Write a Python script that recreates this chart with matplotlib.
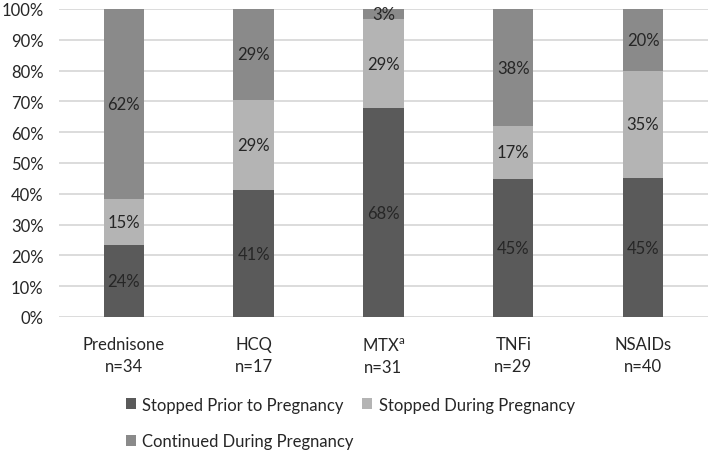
import matplotlib
matplotlib.use("Agg")
import matplotlib.pyplot as plt
from matplotlib.patches import Patch

plt.rcParams["font.family"] = ["Lato", "DejaVu Sans"]
plt.rcParams["mathtext.default"] = "regular"

categories = ["Prednisone\nn=34", "HCQ\nn=17", "MTX$^{a}$\nn=31", "TNFi\nn=29", "NSAIDs\nn=40"]
stopped_prior = [23.5, 41.2, 67.7, 44.8, 45.0]
stopped_during = [14.7, 29.4, 29.0, 17.2, 35.0]
continued = [61.8, 29.4, 3.2, 37.9, 20.0]

series = [
    ("Stopped Prior to Pregnancy", stopped_prior, "#5a5a5a"),
    ("Stopped During Pregnancy", stopped_during, "#b4b4b4"),
    ("Continued During Pregnancy", continued, "#8a8a8a"),
]

TEXT = "#262626"
FS = 12

fig = plt.figure(figsize=(7.09, 4.52), dpi=100)
ax = fig.add_axes([0.083, 0.2965, 0.9156, 0.6815])

x = list(range(len(categories)))
bottom = [0.0] * len(categories)
handles = {}
for name, vals, color in series:
    ax.bar(x, vals, width=0.31, bottom=bottom, color=color, zorder=2)
    for i, v in enumerate(vals):
        ax.text(i, bottom[i] + v / 2, f"{int(v + 0.5)}%", ha="center", va="center",
                fontsize=FS, color=TEXT, zorder=3)
    bottom = [b + v for b, v in zip(bottom, vals)]
    handles[name] = Patch(facecolor=color, label=name)

ax.set_xlim(-0.5, len(categories) - 0.5)
ax.set_ylim(0, 100)
ax.set_yticks(range(0, 101, 10))
ax.set_yticklabels([f"{t}%" for t in range(0, 101, 10)])
ax.set_xticks(x)
ax.set_xticklabels(categories, linespacing=1.45)
ax.tick_params(axis="both", length=0, labelsize=FS, labelcolor=TEXT)
ax.tick_params(axis="x", pad=14)
ax.tick_params(axis="y", pad=11)
ax.grid(axis="y", color="#d9d9d9", linewidth=1.3, zorder=0)
for s in ax.spines.values():
    s.set_visible(False)

# legend fills column-wise: put "Continued" second so it lands under the first entry
order = ["Stopped Prior to Pregnancy", "Continued During Pregnancy", "Stopped During Pregnancy"]
fig.legend(handles=[handles[k] for k in order], ncol=2, loc="upper left",
           bbox_to_anchor=(0.168, 0.135), frameon=False, fontsize=FS,
           handlelength=0.6, handleheight=0.6, handletextpad=0.4, columnspacing=0.5,
           labelspacing=1.25, labelcolor=TEXT, borderaxespad=0)

fig.savefig("out.png", dpi=100)
